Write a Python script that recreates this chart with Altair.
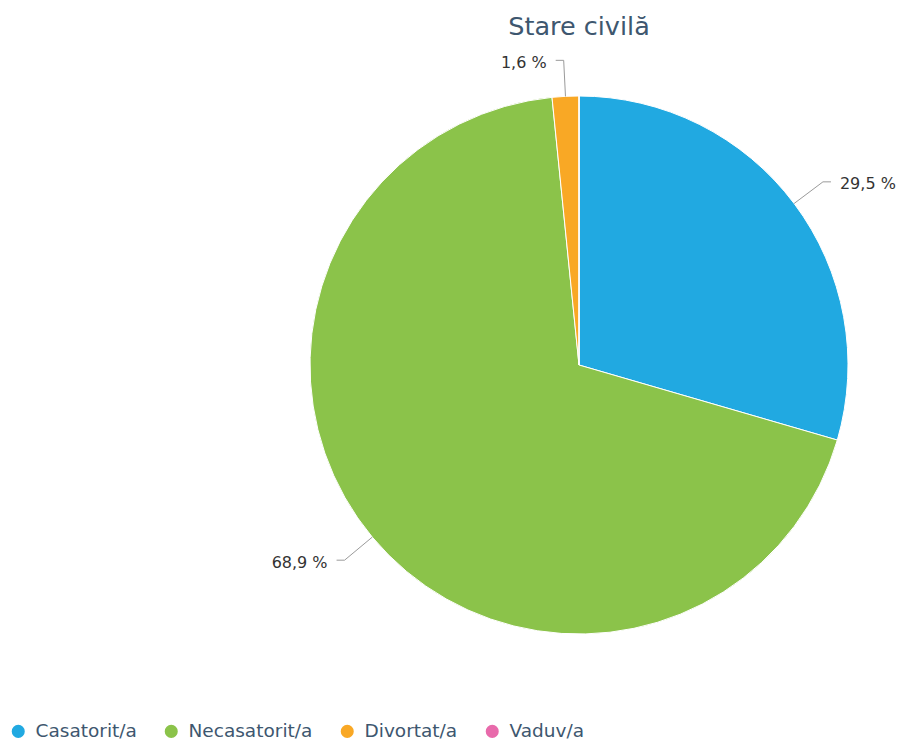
import altair as alt
import pandas as pd

# ---- data ----
categories = ["Casatorit/a", "Necasatorit/a", "Divortat/a", "Vaduv/a"]
values = [29.5, 68.9, 1.6, 0.0]
labels = ["29,5 %", "68,9 %", "1,6 %", ""]
colors = ["#21a9e1", "#8bc34a", "#f9a825", "#e86aab"]

df = pd.DataFrame({"cat": categories, "val": values, "label": labels,
                   "order": list(range(len(categories)))})

# ---- layout constants ----
W, H = 890, 685
CX, CY, R = 571, 307, 269
K = 1.134          # elbow radius factor of connectors
HSEG = 8           # horizontal connector segment
GAP = 9            # gap between connector end and label

xs = alt.Scale(domain=[0, W], nice=False, zero=False)
ys = alt.Scale(domain=[0, H], nice=False, zero=False, reverse=True)

arcs = alt.Chart(df).mark_arc(outerRadius=R, stroke="white", strokeWidth=1).encode(
    theta=alt.Theta("val:Q", stack=True),
    color=alt.Color(
        "cat:N",
        sort=categories,
        scale=alt.Scale(domain=categories, range=colors),
        legend=alt.Legend(
            title=None, orient="none", direction="horizontal",
            legendX=1, legendY=664, padding=0,
            symbolType="circle", symbolSize=170, symbolStrokeWidth=0,
            labelFontSize=18.5, labelFont="DejaVu Sans", labelColor="#3e576f",
            labelOffset=8, columnPadding=25, columns=4,
        ),
    ),
    order=alt.Order("order:Q"),
    x=alt.value(CX),
    y=alt.value(CY),
)

base = (
    alt.Chart(df)
    .transform_joinaggregate(total="sum(val)")
    .transform_window(cum="sum(val)", sort=[alt.SortField("order")], frame=[None, 0])
    .transform_filter("datum.val > 0")
    .transform_calculate(
        mid="(datum.cum - datum.val / 2) / datum.total * 2 * PI",
    )
    .transform_calculate(
        s="sin(datum.mid)", c="cos(datum.mid)",
    )
    .transform_calculate(
        side="datum.s >= 0 ? 1 : -1",
        x0=f"{CX} + {R} * datum.s",
        y0=f"{CY} - {R} * datum.c",
        x1=f"{CX} + {R * K} * datum.s",
        y1=f"{CY} - {R * K} * datum.c",
    )
    .transform_calculate(
        x2=f"datum.x1 + datum.side * {HSEG}",
        y2="datum.y1",
        tx=f"datum.x1 + datum.side * {HSEG + GAP}",
        ty="datum.y1",
    )
)

conn = (
    base.transform_fold(["x0", "x1", "x2"], as_=["step", "px"])
    .transform_calculate(
        py="datum.step == 'x0' ? datum.y0 : (datum.step == 'x1' ? datum.y1 : datum.y2)"
    )
    .mark_line(color="#9a9a9a", strokeWidth=1)
    .encode(
        x=alt.X("px:Q", scale=xs, axis=None),
        y=alt.Y("py:Q", scale=ys, axis=None),
        detail="cat:N",
        order="step:N",
    )
)

text_style = dict(baseline="middle", fontSize=16, font="DejaVu Sans", color="#333333", dy=2.5)

lab_right = base.transform_filter("datum.s >= 0").mark_text(align="left", **text_style).encode(
    x=alt.X("tx:Q", scale=xs, axis=None),
    y=alt.Y("ty:Q", scale=ys, axis=None),
    text="label:N",
)
lab_left = base.transform_filter("datum.s < 0").mark_text(align="right", **text_style).encode(
    x=alt.X("tx:Q", scale=xs, axis=None),
    y=alt.Y("ty:Q", scale=ys, axis=None),
    text="label:N",
)

chart = (
    alt.layer(arcs, conn, lab_right, lab_left)
    .properties(
        width=W, height=H,
        autosize=alt.AutoSizeParams(type="none"),
        padding={"left": 0, "top": 50, "right": 0, "bottom": 0},
        title=alt.Title("Stare civilă", fontSize=25.5, font="DejaVu Sans", fontWeight="normal",
                        color="#3e576f", anchor="middle", dx=126, offset=14),
    )
    .configure_view(stroke=None)
)

chart.save("out.html", embed_options={"renderer": "svg", "actions": False})
